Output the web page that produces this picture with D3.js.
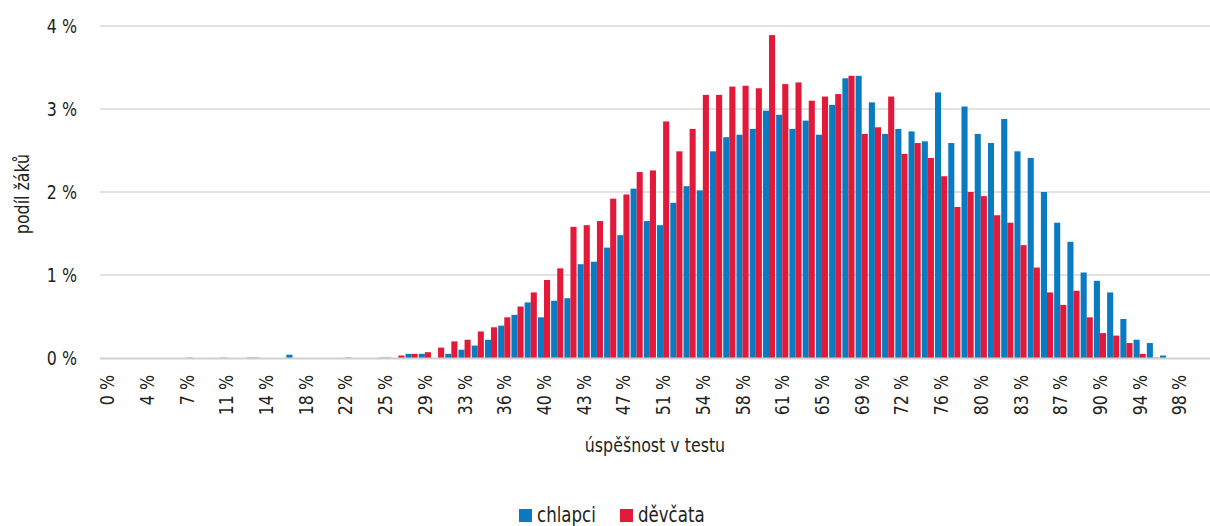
<!DOCTYPE html>
<html>
<head>
<meta charset="utf-8">
<script src="https://cdn.jsdelivr.net/npm/d3@7"></script>
<style>
  body { margin: 0; background: #fff; }
  svg text { font-family: "Liberation Sans Narrow", "DejaVu Sans Condensed", "Roboto", sans-serif; fill: #231f20; }
</style>
</head>
<body>
<div id="chart"></div>
<script>
// score in % of max points (84 steps, label every 3rd)
const categories = [
    "0 %", "1 %", "2 %", "4 %", "5 %", "6 %", "7 %", "8 %", "10 %", "11 %",
    "12 %", "13 %", "14 %", "16 %", "17 %", "18 %", "19 %", "20 %", "22 %", "23 %",
    "24 %", "25 %", "27 %", "28 %", "29 %", "30 %", "31 %", "33 %", "34 %", "35 %",
    "36 %", "37 %", "39 %", "40 %", "41 %", "42 %", "43 %", "45 %", "46 %", "47 %",
    "48 %", "49 %", "51 %", "52 %", "53 %", "54 %", "55 %", "57 %", "58 %", "59 %",
    "60 %", "61 %", "63 %", "64 %", "65 %", "66 %", "67 %", "69 %", "70 %", "71 %",
    "72 %", "73 %", "75 %", "76 %", "77 %", "78 %", "80 %", "81 %", "82 %", "83 %",
    "84 %", "86 %", "87 %", "88 %", "89 %", "90 %", "92 %", "93 %", "94 %", "95 %",
    "96 %", "98 %", "99 %", "100 %"
];

// share of pupils, in %
const chlapci = [
    0, 0, 0, 0, 0, 0, 0, 0, 0, 0.005,
    0, 0.005, 0, 0, 0.04, 0, 0, 0, 0, 0,
    0, 0.005, 0, 0.05, 0.05, 0, 0.05, 0.10, 0.15, 0.22,
    0.39, 0.52, 0.67, 0.49, 0.69, 0.72, 1.13, 1.16, 1.33, 1.48,
    2.04, 1.65, 1.60, 1.87, 2.07, 2.02, 2.49, 2.66, 2.69, 2.76,
    2.98, 2.93, 2.76, 2.86, 2.69, 3.05, 3.37, 3.40, 3.08, 2.70,
    2.76, 2.73, 2.61, 3.20, 2.59, 3.03, 2.70, 2.59, 2.88, 2.49,
    2.41, 2.00, 1.63, 1.40, 1.03, 0.93, 0.79, 0.47, 0.22, 0.18,
    0.03, 0, 0, 0
];

const devcata = [
    0, 0, 0, 0, 0, 0, 0.005, 0, 0, 0,
    0, 0.005, 0, 0, 0, 0, 0, 0, 0.005, 0,
    0, 0.005, 0.03, 0.05, 0.07, 0.125, 0.20, 0.22, 0.32, 0.37,
    0.49, 0.62, 0.79, 0.94, 1.08, 1.58, 1.60, 1.65, 1.92, 1.97,
    2.24, 2.26, 2.85, 2.49, 2.76, 3.17, 3.17, 3.27, 3.28, 3.25,
    3.89, 3.30, 3.32, 3.10, 3.15, 3.18, 3.40, 2.70, 2.78, 3.15,
    2.46, 2.59, 2.41, 2.19, 1.82, 2.00, 1.95, 1.72, 1.63, 1.36,
    1.09, 0.79, 0.64, 0.81, 0.49, 0.30, 0.27, 0.18, 0.05, 0.005,
    0, 0, 0, 0
];

const seriesNames = ["chlapci", "děvčata"];
const seriesColors = ["#0a7bc1", "#e3193a"];
const yTicks = [0, 1, 2, 3, 4];

const width = 1210, height = 526;
const plot = { left: 100, right: 1213, top: 26, bottom: 358 };
const squeeze = 0.88; // narrow the fallback font towards the condensed original

const svg = d3.select("#chart").append("svg")
    .attr("width", width)
    .attr("height", height);

const rows = categories.map((c, i) => ({ cat: c, values: [chlapci[i], devcata[i]] }));

const x = d3.scaleBand()
    .domain(categories)
    .range([plot.left, plot.right])
    .paddingInner(0.08)
    .paddingOuter(0.08);

const xSub = d3.scaleBand()
    .domain(seriesNames)
    .range([0, x.bandwidth()]);

const y = d3.scaleLinear()
    .domain([0, 4])
    .range([plot.bottom, plot.top]);

// gridlines
svg.append("g")
    .selectAll("line")
    .data(yTicks.filter(d => d > 0))
    .join("line")
    .attr("x1", plot.left)
    .attr("x2", width)
    .attr("y1", d => y(d))
    .attr("y2", d => y(d))
    .attr("stroke", "#d9d9d9")
    .attr("stroke-width", 1.5);

// bars
const group = svg.append("g")
    .selectAll("g")
    .data(rows)
    .join("g")
    .attr("transform", d => `translate(${x(d.cat)},0)`);

group.selectAll("rect")
    .data(d => d.values.map((v, k) => ({ name: seriesNames[k], value: v, k: k })))
    .join("rect")
    .attr("x", d => xSub(d.name))
    .attr("width", xSub.bandwidth())
    .attr("y", d => y(d.value))
    .attr("height", d => plot.bottom - y(d.value))
    .attr("fill", d => seriesColors[d.k]);

// baseline
svg.append("line")
    .attr("x1", plot.left)
    .attr("x2", width)
    .attr("y1", plot.bottom + 0.5)
    .attr("y2", plot.bottom + 0.5)
    .attr("stroke", "#d0d0d0")
    .attr("stroke-width", 2);

// y labels
svg.append("g")
    .selectAll("text")
    .data(yTicks)
    .join("text")
    .attr("transform", d => `translate(77,${y(d)}) scale(${squeeze},1)`)
    .attr("dy", "0.35em")
    .attr("text-anchor", "end")
    .attr("font-size", "20px")
    .text(d => `${d} %`);

// x labels, every third category
svg.append("g")
    .selectAll("text")
    .data(categories.filter((c, i) => i % 3 === 0))
    .join("text")
    .attr("transform", d => `translate(${x(d) + x.bandwidth() / 2 + 7},375) rotate(-90) scale(${squeeze},1)`)
    .attr("text-anchor", "end")
    .attr("font-size", "20px")
    .text(d => d);

// axis titles
svg.append("text")
    .attr("transform", `translate(29,194) rotate(-90) scale(${squeeze},1)`)
    .attr("text-anchor", "middle")
    .attr("font-size", "20px")
    .text("podíl žáků");

svg.append("text")
    .attr("transform", `translate(655,452) scale(${squeeze},1)`)
    .attr("text-anchor", "middle")
    .attr("font-size", "20px")
    .text("úspěšnost v testu");

// legend
const legend = svg.append("g")
    .selectAll("g")
    .data(seriesNames)
    .join("g")
    .attr("transform", (d, i) => `translate(${519 + i * 101},509)`);

legend.append("rect")
    .attr("width", 13)
    .attr("height", 13)
    .attr("fill", (d, i) => seriesColors[i]);

legend.append("text")
    .attr("transform", `translate(18,13) scale(${squeeze},1)`)
    .attr("font-size", "21px")
    .text(d => d);
</script>
</body>
</html>
